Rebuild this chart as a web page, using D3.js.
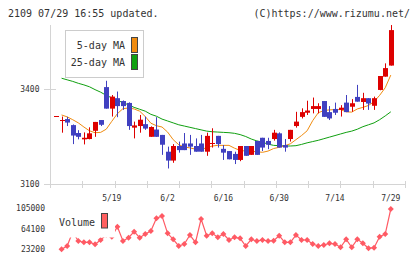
<!DOCTYPE html>
<html><head><meta charset="utf-8">
<script src="https://cdn.jsdelivr.net/npm/d3@7"></script>
<style>
html,body{margin:0;padding:0;background:#fff;}
svg{display:block;font-family:"DejaVu Sans Mono",monospace;}
</style></head>
<body><svg id="c" width="420" height="259"></svg>
<script>
const titleText = "2109 07/29 16:55 updated.";
const creditText = "(C)https://www.rizumu.net/";
const opens  = [3314,3303,3305,3286,3261,3241,3242,3268,3302,3406,3338,3371,3362,3356,3278,3283,3289,3249,3272,3255,3202,3174,3220,3228,3228,3220,3228,3202,3227,3252,3211,3204,3195,3176,3220,3192,3236,3246,3236,3242,3260,3223,3242,3283,3312,3325,3337,3337,3362,3327,3337,3334,3357,3344,3375,3359,3371,3347,3397,3439,3474];
const highs  = [3314,3313,3312,3288,3270,3263,3279,3296,3302,3426,3381,3392,3364,3358,3297,3318,3313,3282,3311,3255,3218,3226,3234,3261,3255,3244,3255,3262,3276,3252,3223,3204,3202,3220,3220,3220,3236,3246,3246,3271,3263,3242,3271,3328,3339,3363,3373,3355,3362,3346,3357,3349,3381,3368,3413,3388,3371,3376,3441,3481,3602];
const lows   = [3314,3262,3283,3226,3241,3225,3241,3249,3283,3338,3313,3311,3334,3271,3244,3262,3271,3249,3249,3192,3149,3167,3199,3207,3192,3202,3202,3189,3215,3215,3176,3178,3163,3172,3189,3192,3192,3204,3210,3237,3215,3202,3234,3278,3307,3318,3323,3323,3312,3302,3318,3313,3327,3328,3360,3334,3334,3334,3396,3439,3474];
const closes = [3314,3303,3294,3253,3249,3246,3260,3296,3287,3338,3376,3346,3346,3283,3285,3303,3275,3280,3249,3224,3174,3220,3207,3207,3218,3202,3202,3252,3228,3226,3199,3178,3176,3220,3189,3220,3192,3215,3224,3262,3215,3215,3271,3297,3327,3332,3346,3346,3312,3307,3325,3341,3327,3355,3360,3371,3354,3371,3441,3466,3586];
const ma5  = [null,3318,3312,3303,3293,3280,3268,3262,3263,3273,3298,3322,3338,3340,3337,3330,3313,3292,3284,3280,3264,3240,3224,3217,3214,3210,3210,3214,3220,3222,3222,3222,3213,3206,3204,3203,3202,3200,3204,3212,3216,3221,3227,3240,3253,3268,3300,3325,3332,3334,3335,3335,3328,3327,3337,3342,3348,3360,3380,3404,3444];
const ma25 = [null,3434,3429,3424,3418,3413,3407,3398,3390,3380,3372,3364,3357,3350,3342,3336,3330,3320,3314,3305,3299,3293,3287,3283,3279,3275,3271,3267,3265,3264,3263,3262,3260,3256,3250,3242,3236,3232,3226,3222,3221,3220,3220,3221,3225,3230,3234,3238,3243,3248,3253,3258,3263,3267,3273,3281,3287,3293,3303,3315,3328];
const volumes = [null,23200,29800,58000,39800,37200,37200,33200,41800,52000,48300,68300,39800,46300,58300,46300,53700,59700,85000,89600,55100,43100,29800,33800,51700,37200,83600,50300,55100,47100,53700,41800,47100,45100,29800,43100,39800,41800,39800,40400,50300,37200,37200,51700,41800,41800,33800,29800,31800,35100,33800,27200,43100,27200,43100,35100,25200,26400,48300,53700,103600];
const dateLabels = ["5/19","6/2","6/16","6/30","7/14","7/29"];
const dateLabelIdx = [10,20,30,40,50,60];
const priceTicks = [3100,3400];
const volTicks = [23200,64100,105000];
const weekTickCount = 12;

const svg = d3.select("#c");
const x = d3.scaleLinear().domain([0, opens.length-1]).range([56, 390.8]);
const y = d3.scaleLinear().domain([3100,3400]).range([184,89]);
const yv = d3.scaleLinear().domain([23200,105000]).range([249.3,208.3]);
const xw = d3.scaleLinear().domain([0, weekTickCount-1]).range([50, 405]);

const RED = "#dd0000", BLUE = "#4040c0", ORANGE = "#f08c10", GREEN = "#10a010", VOL = "#ff5a64", TXT = "#333", AX = "#d4d4d4";

svg.append("text").attr("x",8).attr("y",17).attr("font-size",10).attr("fill",TXT).text(titleText);
svg.append("text").attr("x",410).attr("y",17).attr("text-anchor","end").attr("font-size",10).attr("fill",TXT).text(creditText);

// axes
svg.append("line").attr("x1",50.5).attr("x2",50.5).attr("y1",25).attr("y2",188).attr("stroke",AX);
svg.append("line").attr("x1",44).attr("x2",405).attr("y1",184.5).attr("y2",184.5).attr("stroke",AX);
svg.selectAll(".wt").data(d3.range(1,weekTickCount)).join("line")
  .attr("x1",d=>Math.round(xw(d))+0.5).attr("x2",d=>Math.round(xw(d))+0.5)
  .attr("y1",181).attr("y2",188).attr("stroke",AX);
svg.selectAll(".pt").data(priceTicks).join("line")
  .attr("x1",44).attr("x2",56).attr("y1",d=>Math.round(y(d))+0.5).attr("y2",d=>Math.round(y(d))+0.5).attr("stroke",AX);
svg.selectAll(".pl").data(priceTicks).join("text")
  .attr("x",39.5).attr("y",d=>y(d)).attr("dy","0.35em").attr("text-anchor","end")
  .attr("font-size",8).attr("fill",TXT).text(d=>d);
svg.selectAll(".dl").data(dateLabels).join("text")
  .attr("x",(d,i)=>x(dateLabelIdx[i])).attr("y",201).attr("text-anchor","middle")
  .attr("font-size",8).attr("fill",TXT).text(d=>d);
svg.selectAll(".vl").data(volTicks).join("text")
  .attr("x",45).attr("y",d=>yv(d)).attr("dy","0.35em").attr("text-anchor","end")
  .attr("font-size",8).attr("fill",TXT).text(d=>d);

// MA lines
const idx = d3.range(opens.length);
const mk = arr => d3.line().defined(i=>arr[i]!=null).x(i=>x(i)).y(i=>y(arr[i]));
svg.append("path").attr("d",mk(ma25)(idx)).attr("fill","none").attr("stroke",GREEN).attr("stroke-width",1);
svg.append("path").attr("d",mk(ma5)(idx)).attr("fill","none").attr("stroke",ORANGE).attr("stroke-width",1);

// candles
const bw = 4.8;
const g = svg.append("g");
idx.forEach(i=>{
  const o=opens[i], c=closes[i], h=highs[i], l=lows[i];
  const col = c>=o ? RED : BLUE;
  const cx = Math.round(x(i));
  g.append("line").attr("x1",cx+0.5).attr("x2",cx+0.5).attr("y1",y(h)).attr("y2",y(l)).attr("stroke",col);
  const top = y(Math.max(o,c)), bot = y(Math.min(o,c));
  if (bot-top < 1) {
    g.append("line").attr("x1",cx-2).attr("x2",cx+3).attr("y1",Math.round(top)+0.5).attr("y2",Math.round(top)+0.5).attr("stroke",col);
  } else {
    g.append("rect").attr("x",cx-2).attr("width",5).attr("y",top).attr("height",bot-top).attr("fill",col);
  }
});

// legend (price)
svg.append("rect").attr("x",65.5).attr("y",30.5).attr("width",78).attr("height",47).attr("fill","#fff").attr("stroke","#ccc");
const leg = [["5-day MA",ORANGE,37.5,45.5],["25-day MA",GREEN,54.5,62]];
leg.forEach(([t,c,ry,ty])=>{
  svg.append("text").attr("x",125).attr("y",ty).attr("dy","0.35em").attr("text-anchor","end").attr("font-size",10).attr("fill",TXT).text(t);
  svg.append("rect").attr("x",131.5).attr("y",ry).attr("width",6).attr("height",15).attr("fill",c).attr("stroke","#444");
});

// volume
const vIdx = idx.filter(i=>volumes[i]!=null);
svg.append("path").attr("d",d3.line().x(i=>x(i)).y(i=>yv(volumes[i]))(vIdx)).attr("fill","none").attr("stroke",VOL).attr("stroke-width",1.2);
svg.selectAll(".vd").data(vIdx).join("path")
  .attr("transform",i=>`translate(${x(i)},${yv(volumes[i])})`)
  .attr("d","M0,-3L3,0L0,3L-3,0Z").attr("fill",VOL);
svg.append("rect").attr("x",57).attr("y",211).attr("width",58).attr("height",26.5).attr("fill","#fff");
svg.append("text").attr("x",59).attr("y",222.5).attr("dy","0.35em").attr("font-size",10).attr("fill",TXT).text("Volume");
svg.append("rect").attr("x",101.5).attr("y",213.5).attr("width",6).attr("height",14.5).attr("fill","#ff6060").attr("stroke","#444");
</script></body></html>
